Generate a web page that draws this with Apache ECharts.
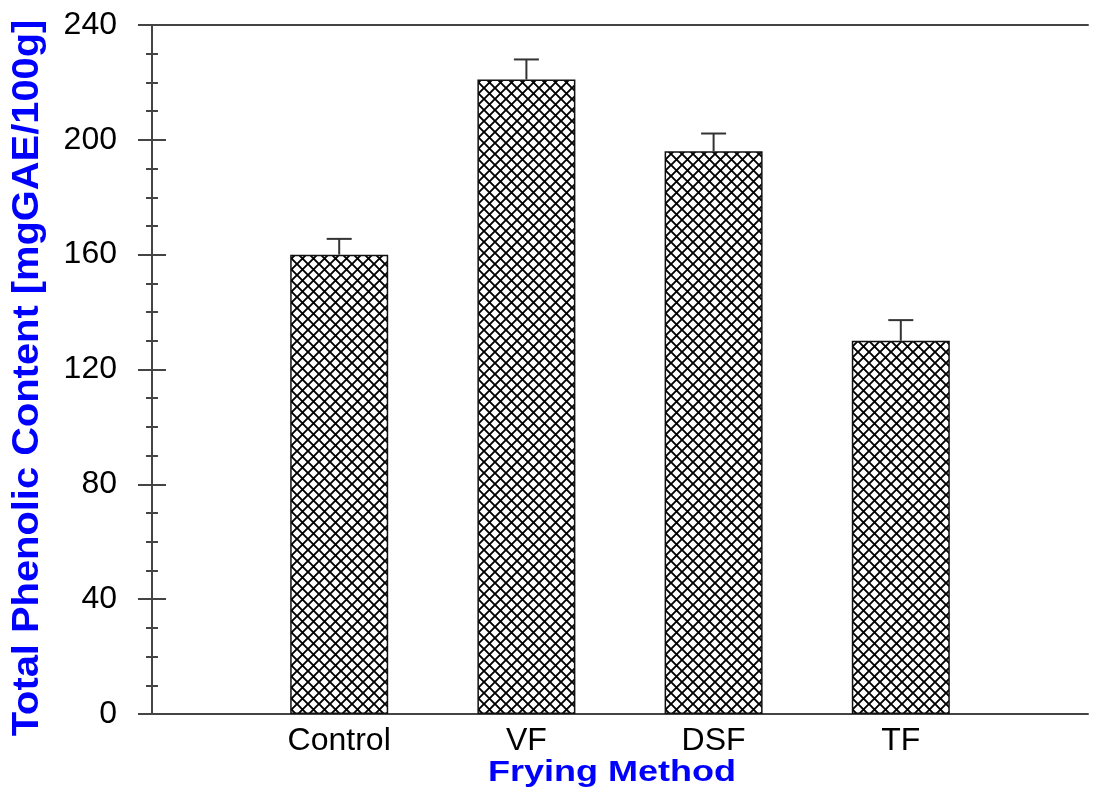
<!DOCTYPE html>
<html>
<head>
<meta charset="utf-8">
<title>Total Phenolic Content by Frying Method</title>
<script src="https://cdn.jsdelivr.net/npm/echarts@6/dist/echarts.min.js"></script>
<style>
  html, body { margin: 0; padding: 0; background: #ffffff; }
  #chart { width: 1094px; height: 797px; }
</style>
</head>
<body>
<div id="chart"></div>
<script>
// Frying methods and measured total phenolic content (mean ± SD)
const categories = ['Control', 'VF', 'DSF', 'TF'];
const meanValues = [160, 221, 196, 130];
const sdValues = [5.5, 7, 6.2, 7.2];
const yTicks = [0, 40, 80, 120, 160, 200, 240];

const FONT = '"Liberation Sans", Arial, Helvetica, sans-serif';
const AXIS_COLOR = '#444444';

// Cross-hatch fill used for every bar
function makeHatch() {
  const size = 11;
  const c = document.createElement('canvas');
  c.width = size; c.height = size;
  const ctx = c.getContext('2d');
  ctx.fillStyle = '#ffffff';
  ctx.fillRect(0, 0, size, size);
  ctx.strokeStyle = '#000000';
  ctx.lineWidth = 1.9;
  ctx.beginPath();
  ctx.moveTo(-1, -1); ctx.lineTo(size + 1, size + 1);
  ctx.moveTo(size + 1, -1); ctx.lineTo(-1, size + 1);
  ctx.stroke();
  return c;
}

// Bars sit at x = 1..4 on a 0..5 value axis
const positions = categories.map((_, i) => i + 1);
const barData = positions.map((x, i) => [x, meanValues[i]]);
const errData = positions.map((x, i) => [x, meanValues[i], meanValues[i] + sdValues[i]]);

const chart = echarts.init(document.getElementById('chart'), null, { renderer: 'canvas' });

const yAxisBase = {
  type: 'value',
  min: yTicks[0],
  max: yTicks[yTicks.length - 1],
  interval: 40,
  splitLine: { show: false },
  axisLine: { show: true, lineStyle: { color: AXIS_COLOR, width: 2 } },
  axisTick: { show: true, inside: false, length: 14, lineStyle: { color: AXIS_COLOR, width: 2 } },
  minorTick: { show: true, splitNumber: 4, length: 6, lineStyle: { color: AXIS_COLOR, width: 2 } },
  minorSplitLine: { show: false }
};

chart.setOption({
  animation: false,
  backgroundColor: '#ffffff',
  grid: { left: 152, right: 6, top: 25, bottom: 83, containLabel: false },
  xAxis: [
    {
      type: 'value',
      position: 'bottom',
      min: 0,
      max: 5,
      splitLine: { show: false },
      axisLine: { show: true, onZero: false, lineStyle: { color: AXIS_COLOR, width: 2 } },
      axisTick: { show: false },
      axisLabel: {
        show: true,
        customValues: positions,
        formatter: (v) => categories[Math.round(v) - 1] || '',
        fontFamily: FONT,
        fontSize: 32,
        color: '#000000',
        margin: 11
      }
    },
    {
      type: 'value',
      position: 'top',
      min: 0,
      max: 5,
      splitLine: { show: false },
      axisLine: { show: true, onZero: false, lineStyle: { color: AXIS_COLOR, width: 2 } },
      axisTick: { show: false },
      axisLabel: { show: false }
    }
  ],
  yAxis: [
    Object.assign({}, yAxisBase, {
      position: 'left',
      axisLabel: {
        show: true,
        fontFamily: FONT,
        fontSize: 32,
        color: '#000000',
        margin: 35
      }
    }),
    Object.assign({}, yAxisBase, {
      position: 'right',
      axisLabel: { show: false }
    })
  ],
  series: [
    {
      type: 'bar',
      xAxisIndex: 0,
      yAxisIndex: 0,
      barWidth: 98,
      data: barData,
      itemStyle: {
        color: { image: makeHatch(), repeat: 'repeat' },
        borderColor: '#111111',
        borderWidth: 1.5
      },
      z: 2
    },
    {
      type: 'custom',
      xAxisIndex: 0,
      yAxisIndex: 0,
      data: errData,
      z: 3,
      renderItem: function (params, api) {
        const base = api.coord([api.value(0), api.value(1)]);
        const top = api.coord([api.value(0), api.value(2)]);
        const half = 12.5;
        const style = { stroke: '#333333', lineWidth: 2 };
        return {
          type: 'group',
          children: [
            { type: 'line', shape: { x1: base[0], y1: base[1], x2: top[0], y2: top[1] }, style: style },
            { type: 'line', shape: { x1: top[0] - half, y1: top[1], x2: top[0] + half, y2: top[1] }, style: style }
          ]
        };
      }
    }
  ],
  graphic: [
    {
      type: 'text',
      x: 612,
      y: 773,
      scaleX: 1.2,
      style: {
        text: 'Frying Method',
        fill: '#0000ff',
        font: 'bold 30px ' + FONT,
        textAlign: 'center',
        textVerticalAlign: 'middle'
      }
    },
    {
      type: 'text',
      x: 28,
      y: 378,
      rotation: Math.PI / 2,
      scaleX: 1.107,
      style: {
        text: 'Total Phenolic Content [mgGAE/100g]',
        fill: '#0000ff',
        font: 'bold 36px ' + FONT,
        textAlign: 'center',
        textVerticalAlign: 'middle'
      }
    }
  ]
});
</script>
</body>
</html>
